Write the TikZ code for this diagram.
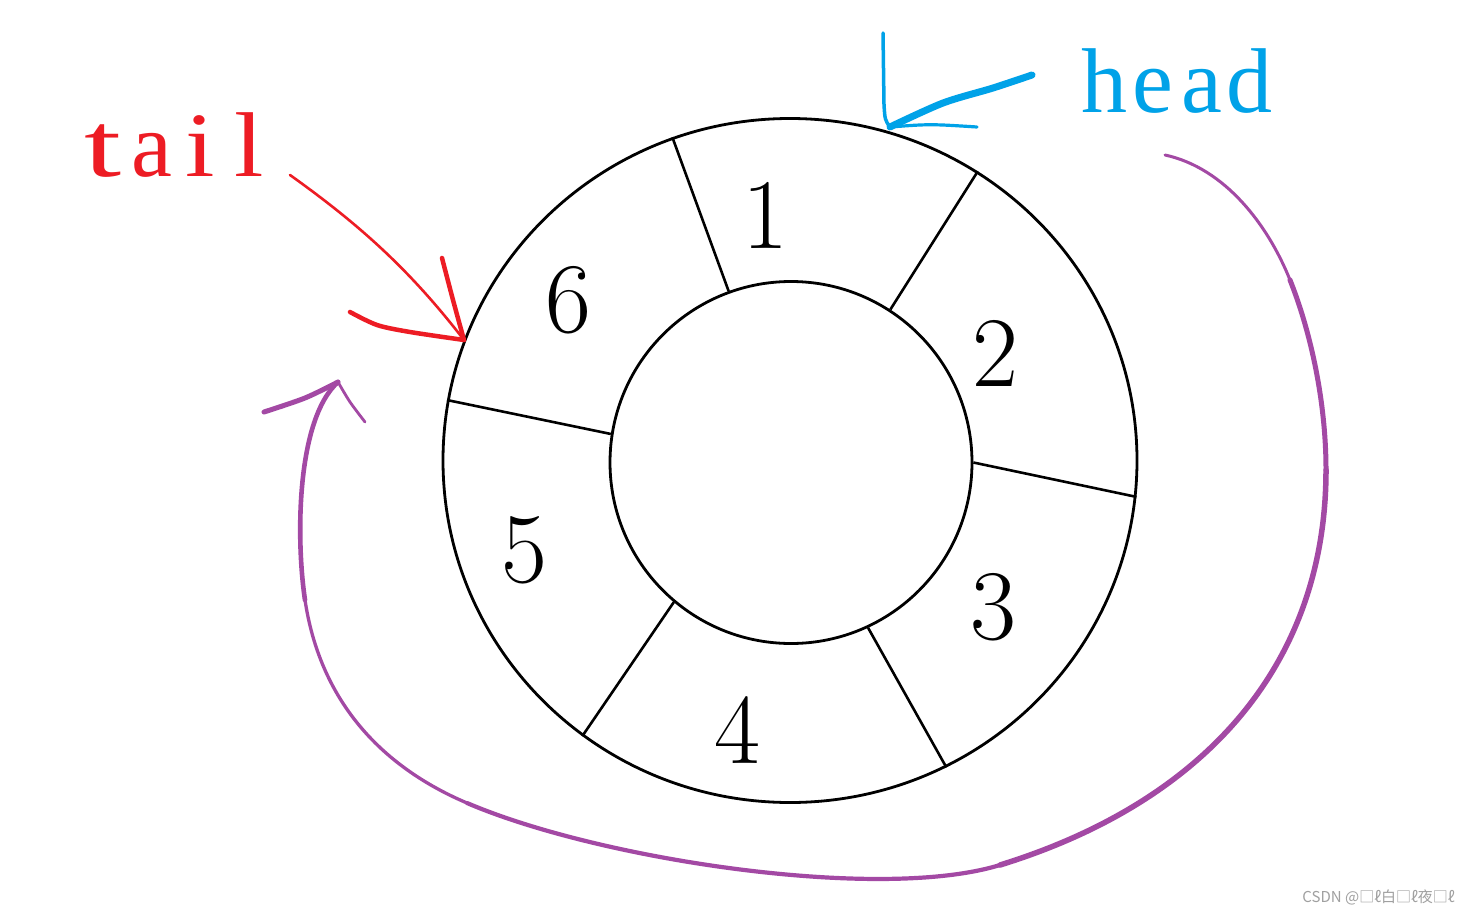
\documentclass[tikz,border=0pt]{standalone}
\usepackage{fontspec}
\usepackage{graphicx}
\usetikzlibrary{shapes.geometric}
\newfontfamily\serifL{Liberation Serif}
\newfontfamily\cjkfont{Noto Sans CJK SC}
\definecolor{pred}{HTML}{ED1C24}
\definecolor{pblue}{HTML}{00A2E8}
\definecolor{ppurple}{HTML}{A349A4}
\definecolor{wmgrey}{HTML}{A0A0A0}
\newcommand\lbox[1]{\makebox[48.5pt][c]{#1}}
\newcommand\wbox[2]{\makebox[48.5pt][c]{\scalebox{#1}[1]{#2}}}
\tikzset{
  ring/.style={draw=black, line width=2.8pt, inner sep=0pt},
  divider/.style={draw=black, line width=2.6pt},
  digit/.style={inner sep=0pt, font=\fontsize{100}{100}\selectfont},
  label/.style={inner sep=0pt, anchor=base west, font=\serifL\fontsize{92}{92}\selectfont},
  redstroke/.style={draw=pred, line cap=round, line join=round},
  bluestroke/.style={draw=pblue, line cap=round, line join=round},
  purplestroke/.style={draw=ppurple, line cap=round, line join=round},
}
\begin{document}
\begin{tikzpicture}[x=1pt,y=-1pt]
\useasboundingbox[fill=white] (0,0) rectangle (1469,915);

% rings
\node[ring, ellipse, minimum width=694pt, minimum height=684pt] (outer) at (790,460.5) {};
\node[ring, circle, minimum size=362pt] (inner) at (791,462.5) {};

% dividers
\draw[divider] (outer.110.6) -- (inner.110.7);
\draw[divider] (outer.57.3) -- (inner.57.5);
\draw[divider] (outer.-6.1) -- (inner.-0.9);
\draw[divider] (outer.-63.2) -- (inner.-65);
\draw[divider] (outer.233.2) -- (inner.230.5);
\draw[divider] (outer.170.8) -- (inner.171.4);

% numbers
\node[digit] (n1) at (765,215) {1};
\node[digit] (n2) at (995,353) {2};
\node[digit] (n3) at (993,607) {3};
\node[digit] (n4) at (737,730) {4};
\node[digit] (n5) at (524,550) {5};
\node[digit] (n6) at (568,300) {6};

% labels
\node[label, text=pred] (tail) at (79,176) {\wbox{1.45}{t}\wbox{1.0}{a}\wbox{1.15}{i}\wbox{1.15}{l}};
\node[label, text=pblue] (head) at (1080,113) {\lbox{h}\lbox{e}\lbox{a}\lbox{d}};

% head arrow
\coordinate (htip) at (890,127);
\draw[bluestroke, line width=3.5pt] (883,33) -- (884,105) .. controls (885,120) .. (htip);
\draw[bluestroke, line width=3.2pt] (htip) .. controls (930,124) .. (977,127);
\draw[bluestroke, line width=7pt] plot[smooth, tension=0.5] coordinates {(1032,75) (993,88) (943,103) (htip)};

% tail arrow
\coordinate (ttip) at (464,340);
\draw[redstroke, line width=2.6pt] (290,175) .. controls (360,225) and (410,270) .. (ttip);
\draw[redstroke, line width=4.5pt] plot[smooth, tension=0.5] coordinates {(350,312) (377,325) (410,332) (ttip)};
\draw[redstroke, line width=4.5pt] plot[smooth, tension=0.5] coordinates {(442,258) (453,300) (ttip)};

% purple return arrow
\coordinate (pstart) at (1165,155);
\coordinate (pa) at (1290,280);
\coordinate (pb) at (1326,470);
\coordinate (pc) at (1000,865);
\coordinate (pd) at (467,803);
\coordinate (pe) at (305,600);
\coordinate (ptip) at (338,382);
\draw[purplestroke, line width=3pt] (pstart) .. controls (1225,168) and (1268,225) .. (pa);
\draw[purplestroke, line width=5pt] (pa) .. controls (1310,330) and (1326,400) .. (pb);
\draw[purplestroke, line width=5.5pt] (pb) .. controls (1326,660) and (1210,800) .. (pc);
\draw[purplestroke, line width=4.2pt] (pc) .. controls (880,902) and (600,860) .. (pd);
\draw[purplestroke, line width=3.3pt] (pd) .. controls (380,766) and (320,700) .. (pe);
\draw[purplestroke, line width=4.6pt] (pe) .. controls (296,540) and (296,420) .. (ptip);
\draw[purplestroke, line width=5pt] plot[smooth, tension=0.5] coordinates {(ptip) (305,398) (264,412)};
\draw[purplestroke, line width=2.8pt] plot[smooth, tension=0.5] coordinates {(ptip) (350,402) (365,422)};

% watermark
\node[anchor=east, inner sep=0pt, text=wmgrey, font=\cjkfont\fontsize{15}{15}\selectfont] (wm) at (1455,897) {CSDN @□ℓ白□ℓ夜□ℓ};
\end{tikzpicture}
\end{document}
